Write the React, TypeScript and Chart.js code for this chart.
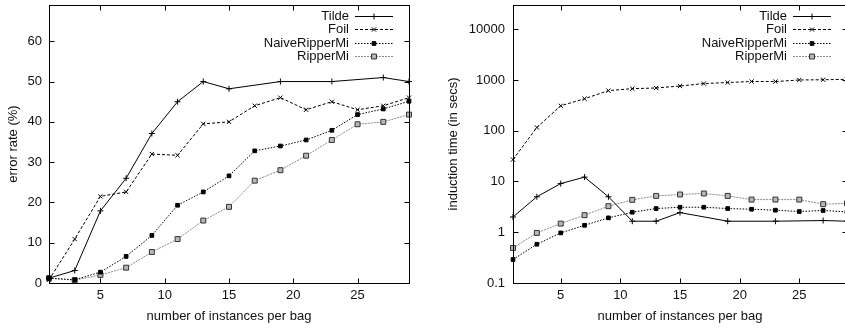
import React, { useEffect, useRef } from 'react';
import { Chart, registerables } from 'chart.js';

Chart.register(...registerables);

// ---- data ----
const xAll = [1, 3, 5, 7, 9, 11, 13, 15, 17, 19, 21, 23, 25, 27, 29];
const tildeX = [1, 3, 5, 7, 9, 11, 13, 15, 19, 23, 27, 29];

const errTilde = [1.2, 3.1, 17.9, 26, 37.1, 45, 50, 48.2, 50, 50, 51, 50];
const errFoil = [0.8, 10.9, 21.5, 22.6, 32, 31.7, 39.5, 40, 44, 46, 43, 45, 43, 44, 46];
const errNaive = [1.2, 0.8, 2.7, 6.6, 11.8, 19.3, 22.6, 26.6, 32.8, 34, 35.5, 37.9, 41.8, 43.2, 45.1];
const errRipper = [1.2, 0.7, 2, 3.8, 7.7, 10.9, 15.5, 18.9, 25.4, 28, 31.6, 35.5, 39.4, 40, 41.8];

const timeTilde = [2, 5, 9.1, 12.2, 5, 1.65, 1.65, 2.44, 1.65, 1.65, 1.7, 1.65];
const timeFoil = [27, 116, 310, 427, 617, 674, 695, 760, 850, 890, 935, 930, 1000, 1010, 1030];
const timeNaive = [0.29, 0.58, 0.97, 1.37, 1.92, 2.48, 2.93, 3.11, 3.11, 2.93, 2.84, 2.72, 2.56, 2.68, 2.52];
const timeRipper = [0.49, 0.97, 1.48, 2.17, 3.26, 4.35, 5.2, 5.54, 5.8, 5.2, 4.4, 4.4, 4.4, 3.57, 3.7];

const xTicks = [5, 10, 15, 20, 25];
const errTicks = [0, 10, 20, 30, 40, 50, 60];
const timeTicks = [0.1, 1, 10, 100, 1000, 10000];
const seriesNames = ['Tilde', 'Foil', 'NaiveRipperMi', 'RipperMi'];

const FONT_FAMILY = "'Liberation Sans', Arial, Helvetica, sans-serif";
const FONT = { family: FONT_FAMILY, size: 13 };

const styles = [
  { color: '#000', dash: [] as number[], point: 'cross', radius: 3, fill: '#000', pborder: '#000' },
  { color: '#000', dash: [3, 2], point: 'crossRot', radius: 3, fill: '#000', pborder: '#000' },
  { color: '#000', dash: [1.5, 1.5], point: 'rect', radius: 2.6, fill: '#000', pborder: '#000' },
  { color: '#8a8a8a', dash: [2, 1], point: 'rect', radius: 3.5, fill: '#b8b8b8', pborder: '#333' },
];

function toPts(xs: number[], ys: number[]) {
  return xs.map((x, i) => ({ x, y: ys[i] }));
}

function drawMarker(ctx: CanvasRenderingContext2D, s: any, x: number, y: number) {
  ctx.save();
  ctx.setLineDash([]);
  ctx.lineWidth = 1;
  ctx.strokeStyle = s.pborder;
  ctx.fillStyle = s.fill;
  const r = s.radius;
  ctx.beginPath();
  if (s.point === 'cross') {
    ctx.moveTo(x - r, y); ctx.lineTo(x + r, y);
    ctx.moveTo(x, y - r); ctx.lineTo(x, y + r);
    ctx.stroke();
  } else if (s.point === 'crossRot') {
    const d = r * Math.SQRT1_2;
    ctx.moveTo(x - d, y - d); ctx.lineTo(x + d, y + d);
    ctx.moveTo(x - d, y + d); ctx.lineTo(x + d, y - d);
    ctx.stroke();
  } else {
    const d = r * Math.SQRT1_2;
    ctx.rect(x - d, y - d, 2 * d, 2 * d);
    ctx.fill();
    ctx.stroke();
  }
  ctx.restore();
}

const framePlugin = {
  id: 'gnuFrame',
  afterDatasetsDraw(chart: any) {
    const { ctx, chartArea: a, scales } = chart;
    ctx.save();
    ctx.setLineDash([]);
    ctx.strokeStyle = '#000';
    ctx.lineWidth = 1;
    const L = Math.round(a.left) + 0.5;
    const R = Math.round(a.right) + 0.5;
    const T = Math.round(a.top) + 0.5;
    const B = Math.round(a.bottom) + 0.5;
    ctx.strokeRect(L, T, R - L, B - T);
    const len = 5;
    ctx.beginPath();
    for (const t of scales.x.ticks) {
      const px = Math.round(scales.x.getPixelForValue(t.value)) + 0.5;
      ctx.moveTo(px, B); ctx.lineTo(px, B - len);
      ctx.moveTo(px, T); ctx.lineTo(px, T + len);
    }
    for (const t of scales.y.ticks) {
      const py = Math.round(scales.y.getPixelForValue(t.value)) + 0.5;
      ctx.moveTo(L, py); ctx.lineTo(L + len, py);
      ctx.moveTo(R, py); ctx.lineTo(R - len, py);
    }
    ctx.stroke();

    // key (legend) inside top-right
    ctx.font = `13px ${FONT_FAMILY}`;
    ctx.fillStyle = '#111';
    ctx.textAlign = 'right';
    ctx.textBaseline = 'middle';
    chart.data.datasets.forEach((ds: any, i: number) => {
      const s = styles[i];
      const y = 15.5 + i * 13.5;
      ctx.fillText(ds.label, a.right - 60, y + 0.5);
      ctx.save();
      ctx.strokeStyle = s.color;
      ctx.setLineDash(s.dash);
      ctx.lineWidth = 1;
      ctx.beginPath();
      ctx.moveTo(a.right - 54, Math.round(y) + 0.5);
      ctx.lineTo(a.right - 16, Math.round(y) + 0.5);
      ctx.stroke();
      ctx.restore();
      drawMarker(ctx, s, a.right - 35, Math.round(y) + 0.5);
    });
    ctx.restore();
  },
};

function makeDatasets(series: { x: number[]; y: number[] }[]) {
  return series.map((sr, i) => {
    const s = styles[i];
    return {
      label: seriesNames[i],
      data: toPts(sr.x, sr.y),
      borderColor: s.color,
      borderWidth: 1,
      borderDash: s.dash,
      backgroundColor: s.fill,
      pointStyle: s.point,
      pointRadius: s.radius,
      pointBorderColor: s.pborder,
      pointBackgroundColor: s.fill,
      pointBorderWidth: 1,
      tension: 0,
      fill: false,
      clip: false,
    };
  });
}

function zeroPad(s: any) {
  s.paddingTop = 0;
  s.paddingBottom = 0;
  s.paddingLeft = 0;
  s.paddingRight = 0;
}

function xScale() {
  return {
    type: 'linear',
    min: 1,
    max: 29,
    grid: { display: false, drawTicks: false },
    border: { display: false },
    ticks: { font: FONT, color: '#111', padding: 5, maxRotation: 0, autoSkip: false },
    afterBuildTicks: (s: any) => { s.ticks = xTicks.map((v) => ({ value: v })); },
    afterFit: (s: any) => { s.height = 45; zeroPad(s); },
    title: { display: true, text: 'number of instances per bag', font: FONT, color: '#111', padding: { top: 4, bottom: 4 } },
  };
}

function ChartCanvas({ config, width, height, left }: any) {
  const ref = useRef<HTMLCanvasElement | null>(null);
  useEffect(() => {
    if (!ref.current) return;
    const chart = new Chart(ref.current, config);
    return () => chart.destroy();
  }, []);
  return (
    <canvas
      ref={ref}
      width={width}
      height={height}
      style={{ position: 'absolute', left, top: 0, width, height }}
    />
  );
}

export default function App() {
  const leftConfig: any = {
    type: 'line',
    data: {
      datasets: makeDatasets([
        { x: tildeX, y: errTilde },
        { x: xAll, y: errFoil },
        { x: xAll, y: errNaive },
        { x: xAll, y: errRipper },
      ]),
    },
    options: {
      responsive: false,
      animation: false,
      layout: { padding: { top: 5, right: 11, left: 0, bottom: 0 } },
      plugins: { legend: { display: false }, tooltip: { enabled: false } },
      scales: {
        x: xScale(),
        y: {
          type: 'linear',
          min: 0,
          max: 69,
          grid: { display: false, drawTicks: false },
          border: { display: false },
          ticks: { font: FONT, color: '#111', padding: 7 },
          afterBuildTicks: (s: any) => { s.ticks = errTicks.map((v) => ({ value: v })); },
          afterFit: (s: any) => { s.width = 49; zeroPad(s); },
          title: { display: true, text: 'error rate (%)', font: FONT, color: '#111', padding: { top: 6, bottom: 4 } },
        },
      },
    },
    plugins: [framePlugin],
  };

  const rightConfig: any = {
    type: 'line',
    data: {
      datasets: makeDatasets([
        { x: tildeX, y: timeTilde },
        { x: xAll, y: timeFoil },
        { x: xAll, y: timeNaive },
        { x: xAll, y: timeRipper },
      ]),
    },
    options: {
      responsive: false,
      animation: false,
      layout: { padding: { top: 5, right: 10, left: 0, bottom: 0 } },
      plugins: { legend: { display: false }, tooltip: { enabled: false } },
      scales: {
        x: xScale(),
        y: {
          type: 'logarithmic',
          min: 0.1,
          max: 30000,
          grid: { display: false, drawTicks: false },
          border: { display: false },
          ticks: { font: FONT, color: '#111', padding: 8, callback: (v: any) => String(v) },
          afterBuildTicks: (s: any) => { s.ticks = timeTicks.map((v) => ({ value: v })); },
          afterFit: (s: any) => { s.width = 73; zeroPad(s); },
          title: { display: true, text: 'induction time (in secs)', font: FONT, color: '#111', padding: { top: 6, bottom: 4 } },
        },
      },
    },
    plugins: [framePlugin],
  };

  return (
    <div style={{ position: 'absolute', left: 0, top: 0, width: 845, height: 328, overflow: 'hidden', background: '#fff' }}>
      <ChartCanvas config={leftConfig} width={420} height={328} left={0} />
      <ChartCanvas config={rightConfig} width={417} height={328} left={440} />
    </div>
  );
}
